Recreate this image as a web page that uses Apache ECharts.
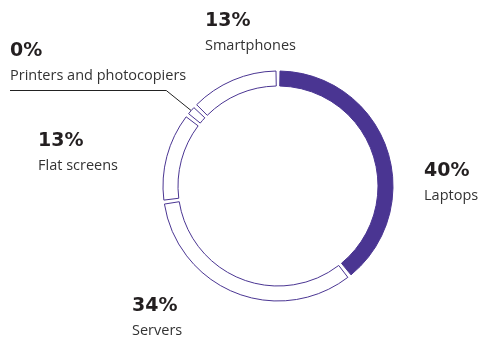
<!DOCTYPE html>
<html>
<head>
<meta charset="utf-8">
<script src="https://cdn.jsdelivr.net/npm/echarts@6/dist/echarts.min.js"></script>
<style>
html,body{margin:0;padding:0;background:#fff;}
#chart{width:481px;height:337px;}
</style>
</head>
<body>
<div id="chart"></div>
<script>
// Data
const categories = ['Laptops', 'Servers', 'Flat screens', 'Printers and photocopiers', 'Smartphones'];
const shares = [40, 34, 13, 0.4, 13];

// Label placement (layout only)
const labelPos = [
  [424, 158],
  [132, 293],
  [38, 128],
  [10, 38],
  [205, 8]
];

const PURPLE = '#4a3592';

const chart = echarts.init(document.getElementById('chart'), null, {renderer: 'canvas'});

const data = categories.map((name, i) => ({
  name: name,
  value: shares[i],
  itemStyle: i === 0
    ? {color: PURPLE, borderColor: PURPLE, borderWidth: 1}
    : {color: '#ffffff', borderColor: PURPLE, borderWidth: 1},
  labelLine: {show: i === 3}
}));

chart.setOption({
  animation: false,
  series: [{
    type: 'pie',
    center: [278, 186],
    radius: [100, 115],
    startAngle: 90,
    clockwise: true,
    padAngle: 2,
    minAngle: 4,
    avoidLabelOverlap: false,
    data: data,
    label: {
      show: true,
      position: 'outside',
      formatter: p => '{p|' + Math.round(p.value) + '%}\n{n|' + p.name + '}',
      rich: {
        p: {fontFamily: 'DejaVu Sans', fontWeight: 'bold', fontSize: 19, lineHeight: 27, color: '#231f20'},
        n: {fontFamily: 'Open Sans', fontSize: 14.5, lineHeight: 22, color: '#333333'}
      }
    },
    labelLine: {
      lineStyle: {color: '#222222', width: 1}
    },
    emphasis: {disabled: true},
    labelLayout: function (params) {
      const pos = labelPos[params.dataIndex];
      const res = {x: pos[0], y: pos[1], align: 'left', verticalAlign: 'top'};
      if (params.dataIndex === 3 && params.labelLinePoints) {
        const start = params.labelLinePoints[0];
        const w = params.labelRect.width;
        const h = params.labelRect.height;
        const yLine = pos[1] + h + 11;
        res.labelLinePoints = [
          start,
          [pos[0] + w - 20, yLine],
          [pos[0], yLine]
        ];
      }
      return res;
    }
  }]
});
</script>
</body>
</html>
